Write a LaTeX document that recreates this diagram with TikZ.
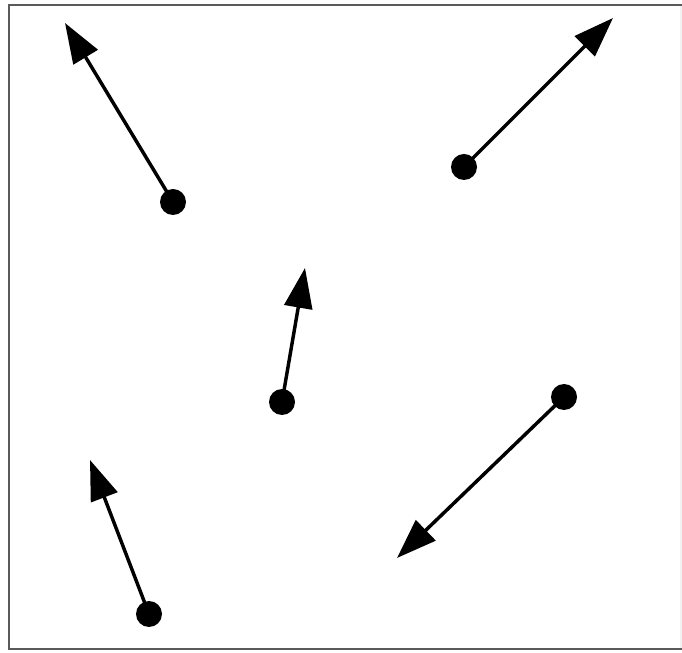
\documentclass[tikz,border=0pt]{standalone}
\usepackage{tikz}
\usetikzlibrary{arrows.meta}
\definecolor{frame}{HTML}{5A5A5A}
\definecolor{faint}{HTML}{F2F2F2}
\tikzset{
  dot/.style={circle,fill=black,inner sep=0pt,minimum size=0.26in},
  vec/.style={-{Triangle[length=0.40in,width=0.28in]},line width=2.5pt,black}
}

\begin{document}
\begin{tikzpicture}[x=1in,y=1in]
          \useasboundingbox (0,0) rectangle (6.82,6.53);
          \draw[faint,line width=1.5pt] (6.81,0.04) -- (6.81,6.48);
          \draw[frame,line width=1.5pt] (6.82,6.48) -- (0.09,6.48) -- (0.09,0.04) -- (6.82,0.04);
          \foreach \n/\dx/\dy/\tx/\ty in {1/1.73/4.51/0.65/6.30,
                                          2/4.64/4.86/6.13/6.35,
                                          3/2.82/2.51/3.05/3.85,
                                          4/5.64/2.56/3.97/0.95,
                                          5/1.49/0.39/0.90/1.93}
          {
            \node[dot] (d\n) at (\dx,\dy) {};
            \coordinate (t\n) at (\tx,\ty);
            \draw[vec] (d\n.center) -- (t\n);
          }
        \end{tikzpicture}
\end{document}
